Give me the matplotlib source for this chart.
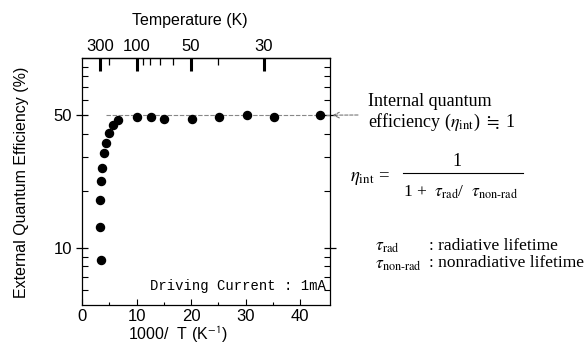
import numpy as np
import matplotlib
matplotlib.use("Agg")
import matplotlib.pyplot as plt
from matplotlib.lines import Line2D
from matplotlib.ticker import FixedLocator, NullFormatter, FixedFormatter

plt.rcParams['font.family'] = ['Liberation Sans', 'DejaVu Sans']
plt.rcParams['mathtext.fontset'] = 'stix'

# data
inv_temp = [3.47, 3.35, 3.35, 3.47, 3.6, 4.08, 4.39, 5.0, 5.7, 6.6,
            10.0, 12.6, 15.0, 20.1, 25.1, 30.3, 35.2, 43.7]
eqe = [8.65, 12.9, 17.9, 22.5, 26.4, 31.5, 35.8, 40.5, 44.3, 47.1,
       48.6, 48.6, 48.0, 47.7, 48.6, 50.0, 49.0, 50.0]
plateau = 50
plateau_start = 4.4

temp_major = [300, 100, 50, 30]
temp_minor = [200, 90, 80, 70, 60, 40]

fig = plt.figure(figsize=(5.88, 3.52), dpi=100)
W, H = 588, 352
ax = fig.add_axes([82 / W, 1 - 305 / H, 248 / W, 247 / H])

ax.plot(inv_temp, eqe, 'o', color='black', markersize=5.8, zorder=3)
ax.plot([plateau_start, 46], [plateau, plateau], color='#888888', lw=0.8,
        ls=(0, (4, 1.5)), zorder=2)

ax.set_yscale('log')
ax.set_xlim(0, 45.5)
ax.set_ylim(5, 100)

ax.yaxis.set_major_locator(FixedLocator([10, 50]))
ax.yaxis.set_major_formatter(FixedFormatter(['10', '50']))
ax.yaxis.set_minor_locator(FixedLocator([6, 7, 8, 9, 20, 30, 40, 60, 70, 80, 90]))
ax.yaxis.set_minor_formatter(NullFormatter())
ax.set_xticks([0, 10, 20, 30, 40])
ax.set_xticks([5, 15, 25, 35], minor=True)

ax.tick_params(axis='y', which='major', direction='inout', length=8, width=0.9,
               right=True, labelsize=12, pad=3)
ax.tick_params(axis='y', which='minor', direction='in', length=4, width=0.8,
               right=True)
ax.tick_params(axis='x', which='major', direction='in', length=4, width=0.8,
               top=False, labelsize=12, pad=3)
ax.tick_params(axis='x', which='minor', direction='in', length=2.5, width=0.8,
               top=False)
for s in ax.spines.values():
    s.set_linewidth(0.9)

# top temperature axis
top = ax.secondary_xaxis('top')
top.set_xticks([1000 / t for t in temp_major])
top.set_xticklabels([str(t) for t in temp_major])
top.set_xticks([1000 / t for t in temp_minor], minor=True)
top.tick_params(which='major', direction='in', length=9, width=2.2,
                labelsize=12, pad=3)
top.tick_params(which='minor', direction='in', length=5, width=0.9)
top.spines['top'].set_linewidth(0.9)

fig.text(190 / W, 1 - 21 / H, 'Temperature (K)', ha='center', va='center', fontsize=11.5)
fig.text(22 / W, 1 - 182 / H, 'External Quantum Efficiency (%)', ha='center',
         va='center', rotation=90, fontsize=11.5)
fig.text(178 / W, 1 - 335 / H, '1000/  T (K$^{\\mathsf{-1}}$)', ha='center',
         va='center', fontsize=11.5)

ax.text(0.985, 0.075, 'Driving Current : 1mA', transform=ax.transAxes,
        ha='right', va='center', fontsize=10, family='Liberation Mono')

# arrow pointing at the plateau
ax.annotate('', xy=(1.01, plateau), xycoords=('axes fraction', 'data'),
            xytext=(358 / W, 1 - 115 / H), textcoords='figure fraction',
            arrowprops=dict(arrowstyle='->', color='#777777', lw=0.8,
                            ls=(0, (3, 1.5)), shrinkA=0, shrinkB=0))

serif = ['Liberation Serif', 'DejaVu Serif']
fig.text(368 / W, 1 - 102 / H, 'Internal quantum', ha='left', va='center',
         fontsize=13, family=serif)
fig.text(368 / W, 1 - 122 / H,
         'efficiency ($\\eta_{\\mathrm{int}}$) $\\fallingdotseq$ 1',
         ha='left', va='center', fontsize=13, family=serif)

fig.text(350 / W, 1 - 178 / H, '$\\eta_{\\mathrm{int}}$ =', ha='left',
         va='center', fontsize=13.5, family=serif)
fig.text(457 / W, 1 - 162 / H, '1', ha='center', va='center', fontsize=13,
         family=serif)
fig.add_artist(Line2D([403 / W, 523 / W], [1 - 173 / H, 1 - 173 / H],
                      color='black', lw=0.8, transform=fig.transFigure))
fig.text(403 / W, 1 - 192 / H,
         '1 +  $\\tau_{\\mathrm{rad}}$/  $\\tau_{\\mathrm{non\\text{-}rad}}$',
         ha='left', va='center', fontsize=12.5, family=serif)

fig.text(375 / W, 1 - 247 / H, '$\\tau_{\\mathrm{rad}}$', ha='left',
         va='center', fontsize=12.5, family=serif)
fig.text(375 / W, 1 - 265 / H, '$\\tau_{\\mathrm{non\\text{-}rad}}$', ha='left',
         va='center', fontsize=12.5, family=serif)
fig.text(429 / W, 1 - 246 / H, ': radiative lifetime', ha='left',
         va='center', fontsize=12.5, family=serif)
fig.text(429 / W, 1 - 263 / H, ': nonradiative lifetime', ha='left',
         va='center', fontsize=12.5, family=serif)

fig.savefig('out.png', dpi=100)
